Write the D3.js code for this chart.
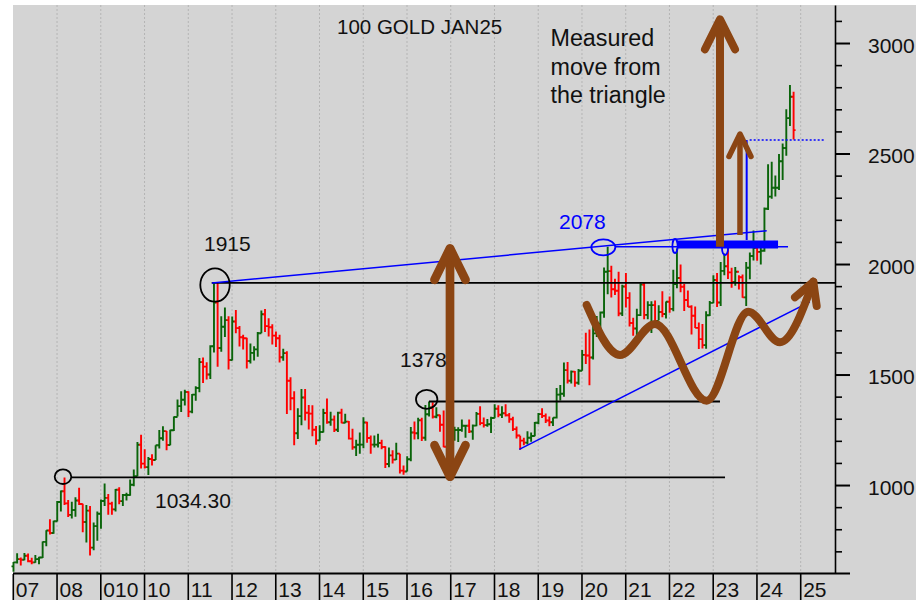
<!DOCTYPE html>
<html>
<head>
<meta charset="utf-8">
<script src="https://cdn.jsdelivr.net/npm/d3@7"></script>
<style>
  html, body { margin: 0; padding: 0; background: #ffffff; }
  svg { display: block; font-family: "Liberation Sans", Arial, Helvetica, sans-serif; }
</style>
</head>
<body>
<svg id="chart" width="916" height="600"></svg>
<script>
// Monthly OHLC bars, January 2007 through November 2024
const firstYear = 2007;
const opens = [
  632, 650, 665, 662, 680, 655, 650, 665, 672, 743, 794, 783,
  836, 923, 972, 917, 865, 887, 930, 914, 833, 884, 717, 814,
  870, 928, 942, 916, 890, 979, 927, 955, 955, 1001, 1040, 1182,
  1097, 1081, 1118, 1113, 1180, 1212, 1244, 1181, 1248, 1308, 1357, 1386,
  1421, 1332, 1409, 1439, 1556, 1536, 1500, 1628, 1826, 1620, 1716, 1746,
  1566, 1740, 1710, 1669, 1664, 1561, 1598, 1614, 1687, 1773, 1719, 1714,
  1676, 1664, 1578, 1597, 1472, 1393, 1234, 1312, 1396, 1327, 1323, 1250,
  1202, 1240, 1326, 1284, 1296, 1250, 1327, 1282, 1287, 1210, 1171, 1182,
  1183, 1283, 1213, 1183, 1183, 1190, 1172, 1095, 1134, 1115, 1142, 1065,
  1061, 1117, 1238, 1234, 1293, 1214, 1320, 1351, 1309, 1316, 1273, 1173,
  1151, 1210, 1249, 1249, 1268, 1268, 1242, 1269, 1322, 1280, 1271, 1275,
  1303, 1345, 1318, 1325, 1316, 1298, 1253, 1224, 1201, 1192, 1214, 1222,
  1282, 1321, 1313, 1292, 1284, 1305, 1409, 1413, 1520, 1472, 1513, 1463,
  1517, 1589, 1586, 1577, 1686, 1730, 1781, 1965, 1968, 1886, 1879, 1776,
  1898, 1847, 1733, 1708, 1769, 1907, 1770, 1814, 1814, 1743, 1783, 1774,
  1829, 1797, 1909, 1937, 1897, 1837, 1807, 1766, 1711, 1660, 1633, 1768,
  1824, 1928, 1826, 1969, 1990, 1962, 1919, 1965, 1940, 1849, 1983, 2036,
  2072, 2055, 2060, 2250, 2305, 2345, 2345, 2465, 2525, 2660, 2757
];
const highs = [
  652, 691, 672, 692, 690, 671, 683, 675, 745, 795, 845, 838,
  928, 975, 1034.3, 932, 924, 945, 988, 915, 910, 905, 830, 880,
  935, 1007, 960, 924, 982, 990, 960, 965, 1025, 1070, 1195, 1227,
  1162, 1127, 1139, 1180, 1249, 1266, 1245, 1250, 1310, 1387, 1424, 1431,
  1424, 1412, 1447, 1575, 1577, 1556, 1632, 1913, 1915, 1764, 1803, 1764,
  1763, 1792, 1720, 1680, 1666, 1640, 1628, 1693, 1790, 1796, 1755, 1727,
  1695, 1680, 1617, 1605, 1488, 1424, 1348, 1434, 1434, 1362, 1361, 1267,
  1270, 1345, 1392, 1332, 1315, 1332, 1345, 1323, 1290, 1255, 1205, 1238,
  1307, 1286, 1224, 1224, 1232, 1205, 1175, 1170, 1157, 1191, 1142, 1088,
  1130, 1263, 1287, 1305, 1304, 1362, 1378, 1375, 1352, 1318, 1337, 1180,
  1220, 1264, 1261, 1296, 1272, 1296, 1274, 1331, 1357, 1306, 1299, 1309,
  1366, 1361, 1356, 1366, 1326, 1309, 1265, 1223, 1214, 1243, 1238, 1285,
  1326, 1347, 1324, 1310, 1306, 1439, 1453, 1555, 1557, 1518, 1516, 1525,
  1611, 1689, 1704, 1747, 1765, 1785, 1984, 2078, 1992, 1933, 1965, 1906,
  1959, 1872, 1757, 1798, 1913, 1917, 1832, 1832, 1835, 1814, 1877, 1831,
  1853, 1974, 2070, 1998, 1910, 1880, 1814, 1808, 1735, 1729, 1786, 1833,
  1949, 1959, 2009, 2048, 2079, 1983, 1987, 1949, 1953, 2009, 2052, 2152,
  2100, 2080, 2256, 2452, 2463, 2400, 2498, 2545, 2700, 2810, 2780
];
const lows = [
  608, 645, 636, 660, 651, 642, 648, 642, 670, 723, 776, 780,
  835, 880, 910, 855, 849, 857, 910, 786, 740, 681, 705, 748,
  802, 905, 866, 865, 880, 913, 905, 930, 952, 995, 1040, 1075,
  1075, 1045, 1088, 1113, 1165, 1200, 1157, 1180, 1245, 1310, 1330, 1360,
  1308, 1325, 1381, 1420, 1462, 1478, 1480, 1600, 1535, 1603, 1670, 1523,
  1563, 1687, 1627, 1613, 1527, 1550, 1564, 1581, 1687, 1692, 1672, 1636,
  1625, 1555, 1562, 1321, 1338, 1180, 1208, 1270, 1292, 1251, 1221, 1182,
  1200, 1238, 1277, 1268, 1240, 1240, 1280, 1280, 1206, 1160, 1131, 1142,
  1167, 1191, 1142, 1170, 1170, 1162, 1077, 1080, 1098, 1113, 1052, 1046,
  1061, 1108, 1206, 1207, 1199, 1200, 1310, 1301, 1302, 1241, 1171, 1122,
  1146, 1200, 1195, 1241, 1214, 1236, 1205, 1266, 1271, 1260, 1264, 1236,
  1302, 1307, 1303, 1310, 1282, 1245, 1211, 1160, 1180, 1183, 1196, 1221,
  1275, 1303, 1281, 1266, 1267, 1301, 1382, 1400, 1459, 1459, 1445, 1454,
  1517, 1548, 1451, 1568, 1670, 1671, 1757, 1863, 1848, 1860, 1764, 1765,
  1803, 1717, 1676, 1678, 1765, 1750, 1750, 1688, 1721, 1746, 1759, 1753,
  1780, 1786, 1890, 1872, 1787, 1805, 1681, 1710, 1615, 1618, 1617, 1765,
  1823, 1805, 1810, 1949, 1932, 1893, 1902, 1885, 1847, 1810, 1931, 2016,
  2015, 1998, 2055, 2245, 2295, 2305, 2335, 2380, 2490, 2625, 2564
];
const closes = [
  650, 665, 662, 680, 655, 650, 665, 672, 743, 794, 783, 836,
  923, 972, 917, 865, 887, 930, 914, 833, 884, 717, 814, 870,
  928, 942, 916, 890, 979, 927, 955, 955, 1001, 1040, 1182, 1097,
  1081, 1118, 1113, 1180, 1212, 1244, 1181, 1248, 1308, 1357, 1386, 1421,
  1332, 1409, 1439, 1556, 1536, 1500, 1628, 1826, 1620, 1716, 1746, 1566,
  1740, 1710, 1669, 1664, 1561, 1598, 1614, 1687, 1773, 1719, 1714, 1676,
  1664, 1578, 1597, 1472, 1393, 1234, 1312, 1396, 1327, 1323, 1250, 1202,
  1240, 1326, 1284, 1296, 1250, 1327, 1282, 1287, 1210, 1171, 1182, 1183,
  1283, 1213, 1183, 1183, 1190, 1172, 1095, 1134, 1115, 1142, 1065, 1061,
  1117, 1238, 1234, 1293, 1214, 1320, 1351, 1309, 1316, 1273, 1173, 1151,
  1210, 1249, 1249, 1268, 1268, 1242, 1269, 1322, 1280, 1271, 1275, 1303,
  1345, 1318, 1325, 1316, 1298, 1253, 1224, 1201, 1192, 1214, 1222, 1282,
  1321, 1313, 1292, 1284, 1305, 1409, 1413, 1520, 1472, 1513, 1463, 1517,
  1589, 1586, 1577, 1686, 1730, 1781, 1965, 1968, 1886, 1879, 1776, 1898,
  1847, 1733, 1708, 1769, 1907, 1770, 1814, 1814, 1743, 1783, 1774, 1829,
  1797, 1909, 1937, 1897, 1837, 1807, 1766, 1711, 1660, 1633, 1768, 1824,
  1928, 1826, 1969, 1990, 1962, 1919, 1965, 1940, 1849, 1983, 2036, 2072,
  2055, 2060, 2250, 2305, 2345, 2345, 2465, 2525, 2660, 2757, 2606
];

// Axis labels
const yearTicks = [2007, 2008, 2009, 2010, 2011, 2012, 2013, 2014, 2015, 2016,
                   2017, 2018, 2019, 2020, 2021, 2022, 2023, 2024, 2025];
const yearLabels = ["07", "08", "010", "10", "11", "12", "13", "14", "15", "16",
                    "17", "18", "19", "20", "21", "22", "23", "24", "25"];
const priceTicks = [1000, 1500, 2000, 2500, 3000];
const minorPriceTicks = [700, 800, 900, 1100, 1200, 1300, 1400, 1600, 1700, 1800, 1900,
                         2100, 2200, 2300, 2400, 2600, 2700, 2800, 2900, 3100];

// Annotation levels (time in fractional years, price in USD)
const levelLines = [
  { price: 1034.30, from: 2008.326, to: 2023.27, color: "#000000", width: 1.8 },
  { price: 1915,    from: 2011.535, to: 2025.79, color: "#000000", width: 1.8 },
  { price: 1378,    from: 2016.503, to: 2023.155, color: "#000000", width: 1.8 },
  { price: 2078,    from: 2020.755, to: 2024.71, color: "#0000ff", width: 1.5 }
];
const trendLines = [
  [[2011.542, 1914.1], [2024.223, 2150.8]],
  [[2018.567, 1161.7], [2025.21, 1829]]
];
const rings = [
  { t: 2008.136, p: 1037.7, rx: 8.3,  ry: 7.3,  color: "#000000" },
  { t: 2011.611, p: 1905.1, rx: 14.7, ry: 16.7, color: "#000000" },
  { t: 2016.450, p: 1387.9, rx: 10.7, ry: 9.5,  color: "#000000" },
  { t: 2020.488, p: 2075.7, rx: 12,   ry: 8,    color: "#0000ff" },
  { t: 2022.127, p: 2081.5, rx: 2.6,  ry: 7,    color: "#0000ff" },
  { t: 2023.270, p: 2070.2, rx: 3,    ry: 6.5,  color: "#0000ff" }
];
const breakoutBand = { from: 2022.173, to: 2024.482, price: 2088.8 };
const targetStem = { t: 2023.765, from: 2108.7, to: 2561 };
const targetLine = { price: 2561, from: 2023.765, to: 2025.532 };
const measuredArrows = [
  { t: 2016.983, from: 1037.7, to: 2071.2, both: true,  half: 15.5, len: 31.5, width: 8.7 },
  { t: 2023.155, from: 2078.4, to: 3107.3, both: false, half: 15,   len: 30,   width: 8 },
  { t: 2023.612, from: 2131.3, to: 2588.3, both: false, half: 11,   len: 22.5, width: 5.5 }
];
const wavePath = [
  [2020.108, 1814.6], [2020.869, 1588.4], [2021.669, 1728.6], [2022.851, 1381.6],
  [2023.802, 1784.3], [2024.527, 1645.8], [2025.288, 1920.1]
];

const BROWN = "#8b4513";
const GREEN = "#0a640a";
const RED = "#ff0000";

const svg = d3.select("#chart");
const x = d3.scaleLinear().domain([2007, 2025]).range([13.3, 800.7]);
const y = d3.scaleLinear().domain([602, 3172]).range([573, 5]);
const plotRight = 835, plotTop = 5, plotBottom = 573;

// Backgrounds
svg.append("rect").attr("x", 0).attr("y", 0).attr("width", 916).attr("height", 600).attr("fill", "#ffffff");
svg.append("rect").attr("x", 13).attr("y", plotTop).attr("width", 903).attr("height", 600 - plotTop).attr("fill", "#d4d4d4");

// Dotted year gridlines
svg.append("g").selectAll("line").data(yearTicks.slice(1)).join("line")
  .attr("x1", d => x(d)).attr("x2", d => x(d))
  .attr("y1", plotTop).attr("y2", plotBottom)
  .attr("stroke", "#b4b4b4").attr("stroke-width", 1).attr("stroke-dasharray", "2,2");

// OHLC bars
const bars = closes.map((c, i) => ({
  t: firstYear + (i + 0.05) / 12, o: opens[i], h: highs[i], l: lows[i], c: c
}));
svg.append("g").selectAll("path").data(bars).join("path")
  .attr("d", d => {
    const bx = x(d.t);
    return `M${bx},${y(d.h)}V${y(d.l)}M${bx - 2},${y(d.o)}H${bx}M${bx},${y(d.c)}H${bx + 2}`;
  })
  .attr("fill", "none")
  .attr("stroke", d => d.c >= d.o ? GREEN : RED)
  .attr("stroke-width", 1.9);

// Horizontal levels
svg.append("g").selectAll("line").data(levelLines).join("line")
  .attr("x1", d => x(d.from)).attr("x2", d => x(d.to))
  .attr("y1", d => y(d.price)).attr("y2", d => y(d.price))
  .attr("stroke", d => d.color).attr("stroke-width", d => d.width);

// Triangle trendlines
svg.append("g").selectAll("line").data(trendLines).join("line")
  .attr("x1", d => x(d[0][0])).attr("y1", d => y(d[0][1]))
  .attr("x2", d => x(d[1][0])).attr("y2", d => y(d[1][1]))
  .attr("stroke", "#0000ff").attr("stroke-width", 1.5);

// Breakout band and target markers
svg.append("line")
  .attr("x1", x(breakoutBand.from)).attr("x2", x(breakoutBand.to))
  .attr("y1", y(breakoutBand.price)).attr("y2", y(breakoutBand.price))
  .attr("stroke", "#0000ff").attr("stroke-width", 8);
svg.append("line")
  .attr("x1", x(targetStem.t)).attr("x2", x(targetStem.t))
  .attr("y1", y(targetStem.from)).attr("y2", y(targetStem.to))
  .attr("stroke", "#0000ff").attr("stroke-width", 2);
svg.append("line")
  .attr("x1", x(targetLine.from) + 3).attr("x2", x(targetLine.to))
  .attr("y1", y(targetLine.price)).attr("y2", y(targetLine.price))
  .attr("stroke", "#0000ff").attr("stroke-width", 1.6).attr("stroke-dasharray", "2,2");

// Rings around pivot highs
svg.append("g").selectAll("ellipse").data(rings).join("ellipse")
  .attr("cx", d => x(d.t)).attr("cy", d => y(d.p))
  .attr("rx", d => d.rx).attr("ry", d => d.ry)
  .attr("fill", "none").attr("stroke", d => d.color).attr("stroke-width", 1.8);

// Brown measured-move arrows
const arrowG = svg.append("g").attr("fill", "none").attr("stroke", BROWN)
  .attr("stroke-linecap", "round").attr("stroke-linejoin", "round");
measuredArrows.forEach(a => {
  const ax = x(a.t), yTop = y(a.to), yBot = y(a.from);
  arrowG.append("line").attr("x1", ax).attr("x2", ax)
    .attr("y1", yBot).attr("y2", yTop + 2)
    .attr("stroke-width", a.width).attr("stroke-linecap", a.both ? "round" : "butt");
  arrowG.append("path")
    .attr("d", `M${ax - a.half},${yTop + a.len}L${ax},${yTop}L${ax + a.half},${yTop + a.len}`)
    .attr("stroke-width", a.width);
  if (a.both) {
    arrowG.append("path")
      .attr("d", `M${ax - a.half},${yBot - a.len}L${ax},${yBot}L${ax + a.half},${yBot - a.len}`)
      .attr("stroke-width", a.width);
  }
});

// Brown wave leading to the breakout
const wave = d3.line().x(d => x(d[0])).y(d => y(d[1])).curve(d3.curveMonotoneX);
arrowG.append("path").attr("d", wave(wavePath)).attr("stroke-width", 8);
const tip = wavePath[wavePath.length - 1];
const tx = x(tip[0]), ty = y(tip[1]);
arrowG.append("path")
  .attr("d", `M${tx - 18.3},${ty + 15.6}L${tx},${ty}L${tx + 3.4},${ty + 24.3}`)
  .attr("stroke-width", 8);

// Right price axis
const majorAxis = d3.axisRight(y).tickValues(priceTicks).tickSize(15).tickSizeOuter(0)
  .tickPadding(18).tickFormat(d3.format("d"));
const yAxisG = svg.append("g").attr("transform", `translate(${plotRight},0)`).call(majorAxis);
yAxisG.select(".domain").attr("stroke", "#000").attr("stroke-width", 1.6);
yAxisG.selectAll(".tick line").attr("stroke", "#000").attr("stroke-width", 2);
yAxisG.selectAll(".tick text").attr("fill", "#111").attr("font-size", 21)
  .attr("font-family", "Liberation Sans, Arial, sans-serif").attr("dy", "0.44em");
const minorAxis = d3.axisRight(y).tickValues(minorPriceTicks).tickSize(7).tickSizeOuter(0).tickFormat("");
const minorG = svg.append("g").attr("transform", `translate(${plotRight},0)`).call(minorAxis);
minorG.select(".domain").remove();
minorG.selectAll(".tick line").attr("stroke", "#000").attr("stroke-width", 1.6);

// Bottom time axis with boxed year labels
svg.append("line").attr("x1", 13).attr("x2", 850)
  .attr("y1", plotBottom + 0.5).attr("y2", plotBottom + 0.5)
  .attr("stroke", "#000").attr("stroke-width", 2);
const xAxisG = svg.append("g");
xAxisG.selectAll("line").data(yearTicks).join("line")
  .attr("x1", d => x(d)).attr("x2", d => x(d))
  .attr("y1", plotBottom + 1).attr("y2", 600)
  .attr("stroke", "#000").attr("stroke-width", 1.6);
xAxisG.selectAll("text").data(yearTicks).join("text")
  .attr("x", d => x(d) + 2.5).attr("y", 597)
  .attr("font-size", 21).attr("fill", "#111")
  .text((d, i) => yearLabels[i]);

// Text annotations
const txt = svg.append("g").attr("fill", "#111");
txt.append("text").attr("x", 337).attr("y", 34).attr("font-size", 20.5).text("100 GOLD JAN25");
const note = txt.append("text").attr("font-size", 23.3);
[["Measured", 46], ["move from", 74.5], ["the triangle", 102.5]].forEach(([s, yy]) =>
  note.append("tspan").attr("x", 550.5).attr("y", yy).text(s));
txt.append("text").attr("x", 204).attr("y", 251).attr("font-size", 21).text("1915");
txt.append("text").attr("x", 400).attr("y", 367).attr("font-size", 21).text("1378");
txt.append("text").attr("x", 155).attr("y", 507.5).attr("font-size", 21).text("1034.30");
txt.append("text").attr("x", 559).attr("y", 229.3).attr("font-size", 21).attr("fill", "#0000ff").text("2078");
</script>
</body>
</html>
